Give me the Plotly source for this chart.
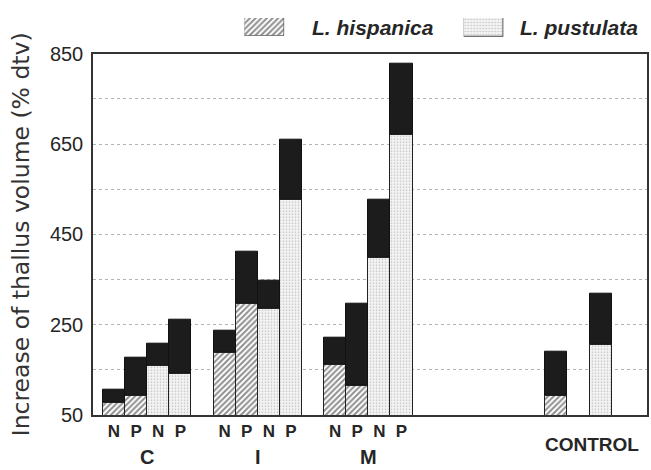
import plotly.graph_objects as go

# ---------------- data ----------------
group_names = ["C", "I", "M"]
group_centers = [1.5, 6.5, 11.5]
np_tick_pos = [0, 1, 2, 3, 5, 6, 7, 8, 10, 11, 12, 13]
np_tick_text = ["N", "P", "N", "P", "N", "P", "N", "P", "N", "P", "N", "P"]

# L. hispanica bars (slot positions, lower patterned part, total height)
hisp_x = [0, 1, 5, 6, 10, 11, 20]
hisp_lower = [78, 92, 187, 297, 162, 114, 92]
hisp_total = [105, 177, 237, 411, 222, 297, 191]

# L. pustulata bars
pust_x = [2, 3, 7, 8, 12, 13, 22]
pust_lower = [160, 142, 286, 526, 399, 670, 206]
pust_total = [208, 260, 348, 660, 526, 828, 319]

y_tick_vals = [50, 150, 250, 350, 450, 550, 650, 750, 850]
y_tick_text = ["50", "", "250", "", "450", "", "650", "", "850"]

# ---------------- style ----------------
TXT = "#262626"
DARK = "#1c1c1c"
FONT = "Liberation Sans"

hatch = dict(shape="/", fgcolor="#1e1e1e", bgcolor="white", size=4, solidity=0.5)
dots = dict(shape=".", fgcolor="#8a8a8a", bgcolor="#f3f3f3", size=3, solidity=0.22)

fig = go.Figure()

fig.add_trace(go.Bar(
    x=hisp_x, y=hisp_lower, width=1,
    marker=dict(color="white", pattern=hatch, line=dict(color="#222", width=1)),
    showlegend=False, hoverinfo="skip"))

fig.add_trace(go.Bar(
    x=pust_x, y=pust_lower, width=1,
    marker=dict(color="white", pattern=dots, line=dict(color="#222", width=1)),
    showlegend=False, hoverinfo="skip"))

all_x = hisp_x + pust_x
all_lower = hisp_lower + pust_lower
all_total = hisp_total + pust_total
fig.add_trace(go.Bar(
    x=all_x, base=all_lower, y=[t - l for t, l in zip(all_total, all_lower)], width=1,
    marker=dict(color=DARK, line=dict(color="#111", width=1)),
    showlegend=False, hoverinfo="skip"))

# legend swatches drawn as single bars on tiny axes
fig.add_trace(go.Bar(
    x=[0], y=[1], width=1, xaxis="x2", yaxis="y2",
    marker=dict(color="white", pattern=dict(shape="/", fgcolor="#1e1e1e", bgcolor="white", size=4, solidity=0.5),
                line=dict(color="#555", width=1)),
    showlegend=False, hoverinfo="skip"))
fig.add_trace(go.Bar(
    x=[0], y=[1], width=1, xaxis="x3", yaxis="y3",
    marker=dict(color="white", pattern=dots, line=dict(color="#444", width=1.2)),
    showlegend=False, hoverinfo="skip"))

W, H = 651, 470
ml, mr, mt, mb = 93, 2, 10, 55
ph = H - mt - mb          # paper height in px
pw = W - ml - mr


def px_x(x):
    return (x - ml) / pw


def px_y(y):
    return (H - mb - y) / ph


main_top = px_y(51)

fig.update_layout(
    width=W, height=H,
    margin=dict(l=ml, r=mr, t=mt, b=mb),
    paper_bgcolor="white", plot_bgcolor="white",
    barmode="overlay", bargap=0,
    font=dict(family=FONT, color=TXT),
    xaxis=dict(
        range=[-0.95, 24.1], domain=[0, 1],
        tickvals=np_tick_pos, ticktext=np_tick_text,
        tickfont=dict(size=17, family=FONT, weight="bold", color=TXT),
        showgrid=False, zeroline=False, ticks="",
        showline=True, linecolor="#333", linewidth=1.5, mirror=True,
    ),
    yaxis=dict(
        range=[50, 850], domain=[0, main_top],
        tickvals=y_tick_vals, ticktext=y_tick_text,
        tickfont=dict(size=20, family=FONT, color=TXT),
        ticks="", ticklabelstandoff=4,
        showgrid=True, gridcolor="#b4b4b4", griddash="dot", gridwidth=1,
        zeroline=False,
        showline=True, linecolor="#333", linewidth=1.5, mirror=True,
        title=dict(text="Increase of thallus volume (% dtv)",
                   font=dict(size=23.5, family="DejaVu Sans", color="#333"),
                   standoff=14),
    ),
    xaxis2=dict(domain=[px_x(245), px_x(285)], range=[-0.5, 0.5], visible=False, anchor="y2", fixedrange=True),
    yaxis2=dict(domain=[px_y(33), px_y(15)], range=[0, 1], visible=False, anchor="x2", fixedrange=True),
    xaxis3=dict(domain=[px_x(465), px_x(505)], range=[-0.5, 0.5], visible=False, anchor="y3", fixedrange=True),
    yaxis3=dict(domain=[px_y(34), px_y(15)], range=[0, 1], visible=False, anchor="x3", fixedrange=True),
)

annotations = []
for name, cx in zip(group_names, group_centers):
    annotations.append(dict(
        x=cx, y=px_y(457), xref="x", yref="paper", text=name, showarrow=False,
        xanchor="center", yanchor="middle",
        font=dict(size=20, family=FONT, weight="bold", color=TXT)))
annotations.append(dict(
    x=21.6, y=px_y(445), xref="x", yref="paper", text="CONTROL", showarrow=False,
    xanchor="center", yanchor="middle",
    font=dict(size=19, family=FONT, weight="bold", color=TXT)))
annotations.append(dict(
    x=px_x(311), y=px_y(25), xref="paper", yref="paper", text="L. hispanica", showarrow=False,
    xanchor="left", yanchor="middle",
    font=dict(size=21, family=FONT, weight="bold", style="italic", color=TXT)))
annotations.append(dict(
    x=px_x(520), y=px_y(25), xref="paper", yref="paper", text="L. pustulata", showarrow=False,
    xanchor="left", yanchor="middle",
    font=dict(size=21, family=FONT, weight="bold", style="italic", color=TXT)))
fig.update_layout(annotations=annotations)

fig.write_html("out.html")
